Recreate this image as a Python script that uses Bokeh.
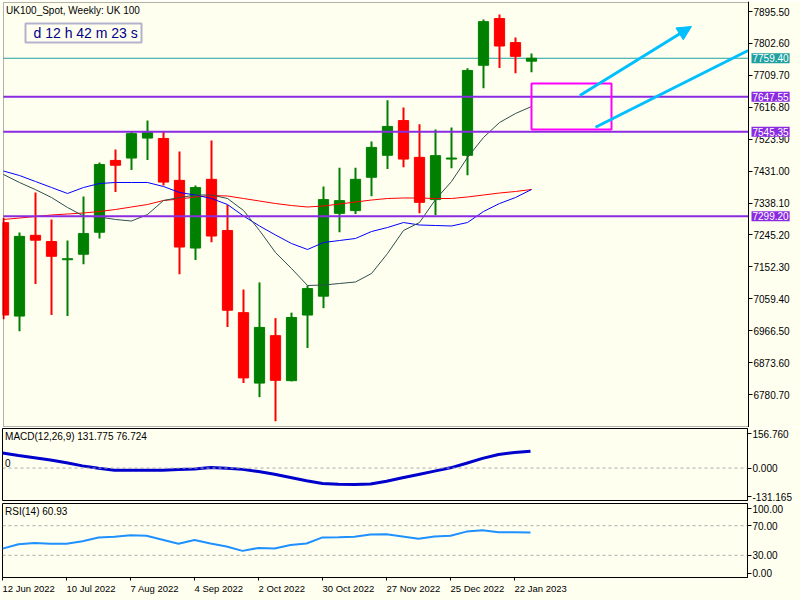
from bokeh.plotting import figure
from bokeh.models import (Range1d, LinearAxis, FixedTicker, Span, Label, BoxAnnotation,
                          Arrow, NormalHead, NumeralTickFormatter, ColumnDataSource)
from bokeh.layouts import column
from bokeh.embed import file_html
from bokeh.resources import INLINE

# ---------------- data ----------------
dates = ["12 Jun 2022", "19 Jun 2022", "26 Jun 2022", "3 Jul 2022", "10 Jul 2022", "17 Jul 2022",
         "24 Jul 2022", "31 Jul 2022", "7 Aug 2022", "14 Aug 2022", "21 Aug 2022", "28 Aug 2022",
         "4 Sep 2022", "11 Sep 2022", "18 Sep 2022", "25 Sep 2022", "2 Oct 2022", "9 Oct 2022",
         "16 Oct 2022", "23 Oct 2022", "30 Oct 2022", "6 Nov 2022", "13 Nov 2022", "20 Nov 2022",
         "27 Nov 2022", "4 Dec 2022", "11 Dec 2022", "18 Dec 2022", "25 Dec 2022", "1 Jan 2023",
         "8 Jan 2023", "15 Jan 2023", "22 Jan 2023", "29 Jan 2023"]

opens  = [7281, 7009, 7244, 7226, 7173, 7189, 7253, 7462, 7469, 7527, 7526, 7404, 7207, 7407, 7258, 7019, 6814,
          6952, 6821, 7012, 7067, 7308, 7316, 7413, 7477, 7578, 7471, 7348, 7466, 7477, 7739, 7875, 7805, 7751]
highs  = [7295, 7252, 7369, 7290, 7229, 7357, 7456, 7494, 7546, 7578, 7546, 7488, 7389, 7520, 7332, 7086, 7107,
          7003, 7019, 7098, 7386, 7441, 7441, 7517, 7637, 7616, 7567, 7552, 7558, 7730, 7872, 7887, 7820, 7773]
lows   = [7000, 6965, 7102, 7012, 7009, 7160, 7235, 7370, 7434, 7463, 7389, 7131, 7172, 7224, 6977, 6814, 6773,
          6703, 6819, 6916, 7032, 7253, 7306, 7358, 7437, 7442, 7308, 7303, 7439, 7419, 7672, 7731, 7716, 7719]
closes = [7012, 7241, 7230, 7183, 7176, 7249, 7450, 7448, 7540, 7543, 7399, 7210, 7383, 7242, 7026, 6829, 6976,
          6822, 7005, 7089, 7348, 7345, 7407, 7500, 7561, 7466, 7340, 7476, 7469, 7724, 7866, 7795, 7765, 7759.4]

ma_blue = [7431.2, 7418.1, 7400.7, 7383.2, 7365.8, 7383.2, 7394.9, 7397.8, 7397.8, 7397.8, 7386.1, 7368.7,
           7361.4, 7351.2, 7333.7, 7300.3, 7271.2, 7245.0, 7220.2, 7202.8, 7223.1, 7229.0, 7234.8, 7255.1,
           7266.8, 7281.3, 7274.1, 7272.6, 7271.2, 7281.3, 7313.4, 7336.6, 7354.1, 7377.4]
ma_red = [7290.1, 7294.4, 7298.8, 7303.2, 7306.1, 7309.0, 7313.4, 7319.2, 7326.5, 7333.7, 7345.4, 7349.7,
          7355.6, 7359.9, 7358.5, 7351.2, 7343.9, 7336.6, 7330.8, 7326.5, 7329.4, 7335.2, 7341.0, 7346.8,
          7351.2, 7352.7, 7352.7, 7351.2, 7351.2, 7355.6, 7361.4, 7367.2, 7371.6, 7377.4]
ma_gray = [7421.1, 7397.8, 7377.0, 7354.1, 7325.0, 7300.3, 7297.3, 7290.1, 7285.7, 7304.6, 7345.4, 7354.1,
           7361.4, 7361.4, 7351.2, 7316.3, 7258.1, 7194.0, 7147.4, 7098.0, 7099.4, 7103.8, 7108.2, 7132.9,
           7191.1, 7258.1, 7281.3, 7348.3, 7400.7, 7470.5, 7528.8, 7572.4, 7598.6, 7619.0]

macd = [69, 57, 47, 37, 24, 10, -1, -9.5, -10, -10, -10, -7, -4, 3, -1, -6, -16, -28, -43, -58, -70, -74,
        -75, -73, -60, -44, -29, -14, 1, 22, 44, 62, 71, 76.724]
rsi = [39, 45, 46.5, 45.5, 45.5, 49, 54, 55, 57, 56.5, 51, 45.5, 50.7, 46, 42, 36, 40, 39.2, 43.8, 45.9, 54.2,
       54.5, 55, 58, 58.5, 55.5, 52.5, 55.5, 56.5, 62, 64, 61, 61, 60.93]

price_ticks = [7895.50, 7802.60, 7709.70, 7616.80, 7523.90, 7431.00, 7338.10, 7245.20, 7152.30,
               7059.40, 6966.50, 6873.60, 6780.70]
macd_ticks = [156.760, 0.0, -131.165]
rsi_ticks = [93, 70, 30, 6]
rsi_tick_labels = {93: "100.00", 6: "0.00"}
date_tick_idx = [0, 4, 8, 12, 16, 20, 24, 28, 32]

level_prices = [7647.55, 7545.35, 7299.20]
current_price = 7759.40

# price window of the main panel and the right edge of the bars area (index units)
price_lo, price_hi = 6687.6, 7921.7
macd_lo, macd_hi = -148.0, 180.5
bars_right = 46.5625

# drawing objects (index units / price)
rect_box = dict(left=[33], right=[38], top=[7686.0], bottom=[7552.0])
arrow1 = dict(x0=36.02, y0=7651.0, x1=43.0, y1=7851.8)
arrow2 = dict(x0=[37.0], y0=[7558.7], x1=[46.54], y1=[7782.0])
timer_box = dict(left=1.375, right=8.625, top=7860.6, bottom=7805.3)

title_text = "UK100_Spot, Weekly:  UK 100"
timer_text = "d 12 h 42 m 23 s"
macd_title = "MACD(12,26,9) 131.775 76.724"
rsi_title = "RSI(14) 60.93"

# ---------------- style ----------------
BG = "#FFFFF0"
FONT = "Liberation Sans"
GREEN = "#008000"
RED = "#FF0000"
PURPLE = "#8A2BE2"
TEAL = "#20A0A0"
ARROW = "#00BFFF"
MAGENTA = "#FF00FF"
PX = (price_hi - price_lo) / 424.0  # price per pixel

idx = list(range(len(dates)))


def axis_kw(size="10px"):
    return dict(major_tick_out=4, major_tick_in=0, minor_tick_out=0, minor_tick_in=0,
                major_label_standoff=1, major_label_text_font=FONT,
                major_label_text_font_size=size, major_label_text_color="black",
                axis_line_color="black", major_tick_line_color="black")


# ---------------- main price panel ----------------
p1 = figure(frame_width=799, frame_height=426,
            x_range=Range1d(-0.0625, -0.0625 + 799 / 16.0),
            y_range=Range1d(price_lo - PX, price_hi + PX),
            output_backend="svg", toolbar_location=None, tools="",
            min_border_left=1, min_border_right=0, min_border_top=1, min_border_bottom=0,
            background_fill_color=BG, border_fill_color=BG, outline_line_color=None,
            x_axis_location=None, y_axis_location=None)
p1.grid.visible = False

price_axis = LinearAxis(fixed_location=bars_right,
                        ticker=FixedTicker(ticks=price_ticks, minor_ticks=[]),
                        formatter=NumeralTickFormatter(format="0.00"), **axis_kw())
p1.add_layout(price_axis, "right")

p1.segment(x0=[0], y0=[current_price], x1=[bars_right], y1=[current_price], line_color=TEAL, line_width=1)

colors = [GREEN if c >= o else RED for o, c in zip(opens, closes)]
src = ColumnDataSource(dict(x=idx, high=highs, low=lows,
                            top=[max(o, c) for o, c in zip(opens, closes)],
                            bottom=[min(o, c) for o, c in zip(opens, closes)],
                            color=colors))
p1.segment(x0="x", y0="low", x1="x", y1="high", line_color="color", line_width=2, source=src)
p1.vbar(x="x", width=0.64, top="top", bottom="bottom", fill_color="color", line_color="color",
        line_width=1, source=src)

p1.line(idx, ma_red, line_color="#FF0000", line_width=1)
p1.line(idx, ma_blue, line_color="#0000FF", line_width=1)
p1.line(idx, ma_gray, line_color="#2F4F4F", line_width=1)

p1.segment(x0=[0] * len(level_prices), y0=level_prices, x1=[bars_right] * len(level_prices), y1=level_prices,
           line_color=PURPLE, line_width=2)

p1.quad(left=rect_box["left"], right=rect_box["right"], top=rect_box["top"], bottom=rect_box["bottom"],
        fill_alpha=0, line_color=MAGENTA, line_width=2)
p1.segment(x0=arrow2["x0"], y0=arrow2["y0"], x1=arrow2["x1"], y1=arrow2["y1"],
           line_color=ARROW, line_width=3)
p1.add_layout(Arrow(end=NormalHead(size=14, fill_color=ARROW, line_color=ARROW),
                    x_start=arrow1["x0"], y_start=arrow1["y0"], x_end=arrow1["x1"], y_end=arrow1["y1"],
                    line_color=ARROW, line_width=3))

# panel border (left/top/bottom) - the price axis line closes it on the right
p1.add_layout(BoxAnnotation(left=0, right=bars_right, top=price_hi, bottom=price_lo,
                            fill_color=None, fill_alpha=0, line_color="black", line_width=1))

# price boxes on the axis
for lv in level_prices:
    p1.add_layout(Label(x=bars_right + 0.1875, y=lv, text=f"{lv:.2f}", text_align="left",
                        text_baseline="middle", text_color="white", text_font=FONT,
                        text_font_size="10px", background_fill_color=PURPLE, padding=1))
p1.add_layout(Label(x=bars_right + 0.1875, y=current_price, text=f"{current_price:.2f}", text_align="left",
                    text_baseline="middle", text_color="white", text_font=FONT, text_font_size="10px",
                    background_fill_color=TEAL, padding=1))

p1.add_layout(Label(x=0.16, y=price_hi, y_offset=-2, text=title_text, text_align="left", text_baseline="top",
                    text_color="black", text_font=FONT, text_font_size="10px"))
p1.add_layout(BoxAnnotation(left=timer_box["left"], right=timer_box["right"], top=timer_box["top"],
                            bottom=timer_box["bottom"], fill_color=BG, fill_alpha=1,
                            line_color="#000080", line_width=2))
p1.add_layout(Label(x=1.875, y=(timer_box["top"] + timer_box["bottom"]) / 2, text=timer_text,
                    text_align="left", text_baseline="middle", text_color="#00008B",
                    text_font=FONT, text_font_size="14px"))


def sub_fig(frame_h, y_range, top_b, bottom_b):
    p = figure(frame_width=745, frame_height=frame_h, x_range=Range1d(0, bars_right), y_range=y_range,
               output_backend="svg", toolbar_location=None, tools="",
               min_border_left=2, min_border_right=53, min_border_top=top_b, min_border_bottom=bottom_b,
               background_fill_color=BG, border_fill_color=BG,
               outline_line_color="black", outline_line_width=1,
               x_axis_location=None, y_axis_location=None)
    p.grid.visible = False
    return p


# ---------------- MACD panel ----------------
p2 = sub_fig(72, Range1d(macd_lo, macd_hi), 1, 2)
p2.add_layout(LinearAxis(ticker=FixedTicker(ticks=macd_ticks, minor_ticks=[]),
                         formatter=NumeralTickFormatter(format="0.000"), **axis_kw()), "right")
p2.add_layout(Span(location=0, dimension="width", line_color="#A9A9A9", line_width=1, line_dash="3 3"))
p2.line(idx, macd, line_color="#0000CD", line_width=3)
p2.add_layout(Label(x=0.16, y=macd_hi, y_offset=-2, text=macd_title, text_align="left", text_baseline="top",
                    text_color="black", text_font=FONT, text_font_size="10px"))
p2.add_layout(Label(x=0.16, y=0, y_offset=1, text="0", text_align="left", text_baseline="bottom",
                    text_color="black", text_font=FONT, text_font_size="10px"))

# ---------------- RSI panel ----------------
p3 = sub_fig(74, Range1d(0, 100), 1, 23)
p3.add_layout(LinearAxis(ticker=FixedTicker(ticks=rsi_ticks, minor_ticks=[]),
                         formatter=NumeralTickFormatter(format="0.00"),
                         major_label_overrides=rsi_tick_labels, **axis_kw()), "right")
for lv in [70, 30]:
    p3.add_layout(Span(location=lv, dimension="width", line_color="#A9A9A9", line_width=1, line_dash="3 3"))
p3.line(idx, rsi, line_color="#1E90FF", line_width=2)
p3.add_layout(Label(x=0.16, y=100, y_offset=-2, text=rsi_title, text_align="left", text_baseline="top",
                    text_color="black", text_font=FONT, text_font_size="10px"))

date_axis = LinearAxis(ticker=FixedTicker(ticks=date_tick_idx, minor_ticks=[]),
                       major_label_overrides={i: dates[i] for i in date_tick_idx},
                       major_label_orientation=-0.0001,
                       major_tick_out=3, major_tick_in=0, minor_tick_out=0, minor_tick_in=0,
                       major_label_standoff=8, major_label_text_font=FONT,
                       major_label_text_font_size="9.5px", major_label_text_color="black",
                       axis_line_color="black", major_tick_line_color="black")
p3.add_layout(date_axis, "below")

layout = column(p1, p2, p3, spacing=0)
open("out.html", "w").write(file_html(layout, INLINE, title="UK100_Spot, Weekly"))
